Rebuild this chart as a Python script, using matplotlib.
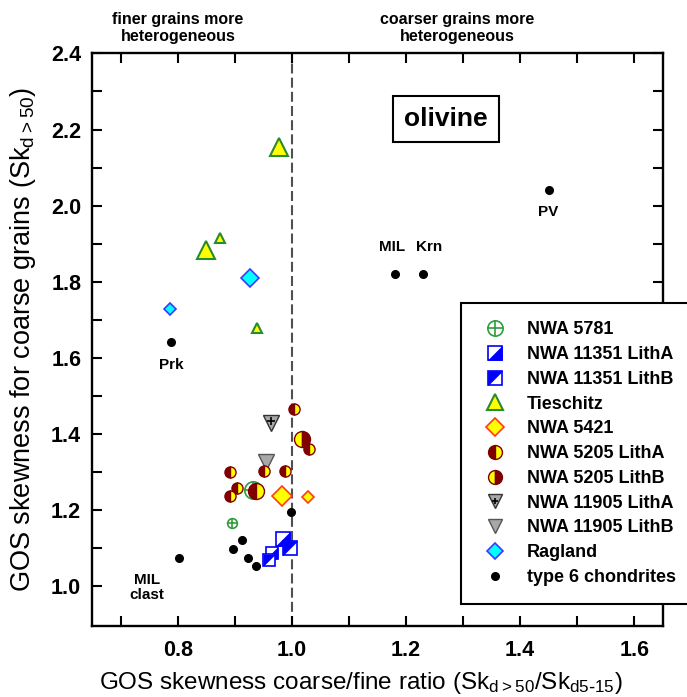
import matplotlib
matplotlib.use("Agg")
import matplotlib.pyplot as plt
from matplotlib.lines import Line2D
from matplotlib.legend_handler import HandlerTuple

plt.rcParams['font.family'] = ['Liberation Sans', 'DejaVu Sans']
plt.rcParams['mathtext.default'] = 'regular'

# ---- data ----
t6_x = [1.45, 1.18, 1.23, 0.788, 0.802, 0.912, 0.897, 0.923, 0.937, 0.998]
t6_y = [2.04, 1.82, 1.82, 1.64, 1.073, 1.120, 1.098, 1.074, 1.052, 1.194]
t6_labels = ["PV", "MIL", "Krn", "Prk", "MIL\nclast", "", "", "", "", ""]

nwa5781_x = [0.895, 0.931]
nwa5781_y = [1.165, 1.251]
nwa5781_s = [7, 12.5]

n11351A_x = [0.984, 0.965]
n11351A_y = [1.122, 1.086]
n11351A_s = [10, 8]
n11351B_x = [0.9965, 0.960]
n11351B_y = [1.099, 1.067]
n11351B_s = [10, 8]

tie_x = [0.977, 0.873, 0.850, 0.938]
tie_y = [2.155, 1.915, 1.883, 1.677]
tie_s = [13, 7, 13, 7]

n5421_x = [0.982, 1.0275]
n5421_y = [1.236, 1.234]
n5421_s = [10, 6]

n5205A_x = [1.0035, 1.030, 0.892, 0.951, 0.987, 0.904, 0.892, 0.937]
n5205A_y = [1.465, 1.361, 1.299, 1.302, 1.301, 1.258, 1.236, 1.249]
n5205A_s = [8, 8, 8, 8, 8, 8, 8, 11.5]
n5205B_x = [1.017]
n5205B_y = [1.385]
n5205B_s = [11.5]

n11905A_x = [0.963]
n11905A_y = [1.428]
n11905B_x = [0.954]
n11905B_y = [1.326]

rag_x = [0.926, 0.786]
rag_y = [1.810, 1.727]
rag_s = [9, 6.5]

# ---- styles ----
GREEN = '#2f9e3a'
TGREEN = '#2b8a2b'
BLUE = '#0000ff'
DRED = '#800000'
YEL = '#ffff00'
RED = '#ff3a1a'
CYAN = '#00ffff'
RBLUE = '#3a3aff'
GRAY = '#a8a8a8'

triA = [(-1, -1), (1, -1), (1, 1), (-1, -1)]
triB = [(-1, -1), (-1, 1), (1, 1), (-1, -1)]

fig = plt.figure(figsize=(6.87, 6.97), dpi=100)
ax = fig.add_axes([0.1344, 0.1023, 0.831, 0.821])
ax.set_xlim(0.65, 1.651)
ax.set_ylim(0.895, 2.4)

ax.axvline(1.0, color='#505050', lw=1.5, dashes=(4.8, 2.0), zorder=1)

def pt(x, y, **kw):
    ax.plot([x], [y], ls='none', **kw)

# Tieschitz
for x, y, s in zip(tie_x, tie_y, tie_s):
    pt(x, y, marker='^', ms=s, mfc=YEL, mec=TGREEN, mew=1.5, zorder=3)
# Ragland
for x, y, s in zip(rag_x, rag_y, rag_s):
    pt(x, y, marker='D', ms=s, mfc=CYAN, mec=RBLUE, mew=1.2, zorder=3)
# NWA 5781
for x, y, s in zip(nwa5781_x, nwa5781_y, nwa5781_s):
    pt(x, y, marker='o', ms=s, mfc='none', mec=GREEN, mew=1.2, zorder=3)
    pt(x, y, marker='+', ms=s, mec=GREEN, mew=1.2, zorder=3)
# NWA 5205
for x, y, s in zip(n5205A_x, n5205A_y, n5205A_s):
    pt(x, y, marker='o', ms=s, fillstyle='left', mfc=DRED, mfcalt=YEL, mec=DRED, mew=1.0, zorder=4)
for x, y, s in zip(n5205B_x, n5205B_y, n5205B_s):
    pt(x, y, marker='o', ms=s, fillstyle='left', mfc=YEL, mfcalt=DRED, mec=DRED, mew=1.0, zorder=4)
# NWA 5421
for x, y, s in zip(n5421_x, n5421_y, n5421_s):
    pt(x, y, marker='D', ms=s, mfc=YEL, mec=RED, mew=1.2, zorder=3)
# NWA 11905
for x, y in zip(n11905A_x, n11905A_y):
    pt(x, y, marker='v', ms=11.5, mfc=GRAY, mec='#333333', mew=1.0, zorder=3)
    pt(x, y + 0.006, marker='+', ms=6, mec='black', mew=1.2, zorder=3)
for x, y in zip(n11905B_x, n11905B_y):
    pt(x, y, marker='v', ms=11.5, mfc=GRAY, mec='#555555', mew=1.0, zorder=3)
# type 6
ax.plot(t6_x, t6_y, ls='none', marker='o', ms=5.5, mfc='black', mec='black', zorder=5)
# NWA 11351
for x, y, s in zip(n11351A_x, n11351A_y, n11351A_s):
    pt(x, y, marker='s', ms=s, mfc='white', mec=BLUE, mew=1.2, zorder=5)
    pt(x, y, marker=triA, ms=s, mfc=BLUE, mec=BLUE, mew=0.5, zorder=5)
for x, y, s in zip(n11351B_x, n11351B_y, n11351B_s):
    pt(x, y, marker='s', ms=s, mfc='white', mec=BLUE, mew=1.2, zorder=5)
    pt(x, y, marker=triB, ms=s, mfc=BLUE, mec=BLUE, mew=0.5, zorder=5)

# point labels
lab_off = {"PV": (0, -0.056), "MIL": (-0.004, 0.071), "Krn": (0.011, 0.071),
           "Prk": (0, -0.06), "MIL\nclast": (-0.056, -0.078)}
for x, y, l in zip(t6_x, t6_y, t6_labels):
    if l:
        dx, dy = lab_off[l]
        ax.text(x + dx, y + dy, l, ha='center', va='center', fontsize=11,
                fontweight='bold', linespacing=1.05)

# olivine box
ax.text(1.27, 2.228, "olivine", ha='center', va='center', fontsize=19, fontweight='bold',
        bbox=dict(boxstyle='square,pad=0.42', fc='white', ec='black', lw=1.5))

# top annotations
for xx, txt in [(0.80, "finer grains more\nheterogeneous"), (1.29, "coarser grains more\nheterogeneous")]:
    ax.text(xx, 1.017, txt, transform=ax.get_xaxis_transform(), ha='center', va='bottom',
            fontsize=11.5, fontweight='bold', linespacing=1.15,
            family=['Liberation Sans Narrow', 'Liberation Sans', 'DejaVu Sans'])

# axes styling
ax.set_xticks([0.7, 0.8, 0.9, 1.0, 1.1, 1.2, 1.3, 1.4, 1.5, 1.6])
ax.set_xticklabels(['', '0.8', '', '1.0', '', '1.2', '', '1.4', '', '1.6'])
yt = [1.0, 1.1, 1.2, 1.3, 1.4, 1.5, 1.6, 1.7, 1.8, 1.9, 2.0, 2.1, 2.2, 2.3, 2.4]
ax.set_yticks(yt)
ax.set_yticklabels([f"{v:.1f}" if round(v * 10) % 2 == 0 else '' for v in yt])
ax.tick_params(direction='in', length=7, width=1.5, top=True, right=True,
               labelsize=15.5, pad=8)
ax.tick_params(axis='x', pad=10)
for lb in ax.get_xticklabels() + ax.get_yticklabels():
    lb.set_fontweight('bold')
for sp in ax.spines.values():
    sp.set_linewidth(1.7)

ax.set_xlabel("GOS skewness coarse/fine ratio (Sk$_{d{>}50}$/Sk$_{d5\\text{-}15}$)", fontsize=17.5)
ax.set_ylabel("GOS skewness for coarse grains (Sk$_{d{>}50}$)", fontsize=19.5)
ax.xaxis.set_label_coords(0.47, -0.078)
ax.yaxis.set_label_coords(-0.095, 0.5)

# legend
def L(**kw):
    return Line2D([], [], ls='none', **kw)

h_5781 = (L(marker='o', ms=11, mfc='none', mec=GREEN, mew=1.2), L(marker='+', ms=11, mec=GREEN, mew=1.2))
h_11351A = (L(marker='s', ms=10, mfc='white', mec=BLUE, mew=1.2), L(marker=triA, ms=10, mfc=BLUE, mec=BLUE, mew=0.5))
h_11351B = (L(marker='s', ms=10, mfc='white', mec=BLUE, mew=1.2), L(marker=triB, ms=10, mfc=BLUE, mec=BLUE, mew=0.5))
h_tie = L(marker='^', ms=12, mfc=YEL, mec=TGREEN, mew=1.5)
h_5421 = L(marker='D', ms=9.5, mfc=YEL, mec=RED, mew=1.2)
h_5205A = L(marker='o', ms=10, fillstyle='left', mfc=DRED, mfcalt=YEL, mec=DRED)
h_5205B = L(marker='o', ms=10, fillstyle='left', mfc=YEL, mfcalt=DRED, mec=DRED)
h_11905A = (L(marker='v', ms=10.5, mfc=GRAY, mec='#333333'), L(marker='+', ms=5, mec='black', mew=1.2))
h_11905B = L(marker='v', ms=10.5, mfc=GRAY, mec='#555555')
h_rag = L(marker='D', ms=8, mfc=CYAN, mec=RBLUE, mew=1.2)
h_t6 = L(marker='o', ms=5.5, mfc='black', mec='black')

handles = [h_5781, h_11351A, h_11351B, h_tie, h_5421, h_5205A, h_5205B, h_11905A, h_11905B, h_rag, h_t6]
labels = ["NWA 5781", "NWA 11351 LithA", "NWA 11351 LithB", "Tieschitz", "NWA 5421",
          "NWA 5205 LithA", "NWA 5205 LithB", "NWA 11905 LithA", "NWA 11905 LithB",
          "Ragland", "type 6 chondrites"]
leg = ax.legend(handles, labels, handler_map={tuple: HandlerTuple(ndivide=1, pad=0)},
                loc='upper left', bbox_to_anchor=(460.7 / 687, 1 - 303.3 / 697),
                bbox_transform=fig.transFigure, frameon=True, fancybox=False,
                edgecolor='black', framealpha=1, borderpad=1.0, labelspacing=0.43,
                handlelength=1.8, handletextpad=0.87, borderaxespad=0,
                prop=dict(size=13, weight='bold'))
leg.get_frame().set_linewidth(1.5)

fig.savefig("out.png", dpi=100)
